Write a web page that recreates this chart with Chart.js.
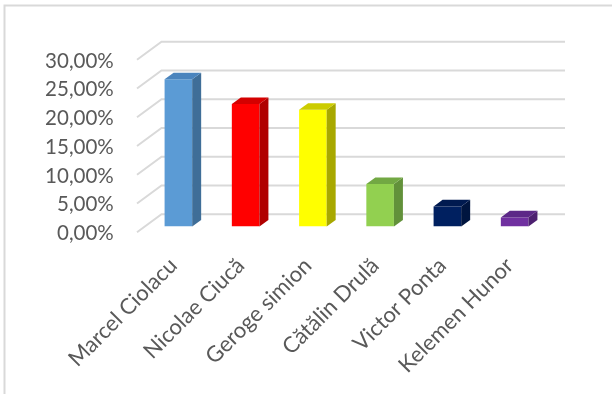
<!DOCTYPE html>
<html>
<head>
<meta charset="utf-8">
<script src="https://cdn.jsdelivr.net/npm/chart.js@4"></script>
<style>
  html, body { margin: 0; padding: 0; background: #fff; }
  #wrap { width: 612px; height: 394px; }
</style>
</head>
<body>
<div id="wrap"><canvas id="sondaj"></canvas></div>
<script>
const candidati = ['Marcel Ciolacu', 'Nicolae Ciucă', 'Geroge simion', 'Cătălin Drulă', 'Victor Ponta', 'Kelemen Hunor'];
const procente = [0.256, 0.213, 0.203, 0.074, 0.035, 0.016];
const culoriFata = ['#5b9bd5', '#ff0000', '#ffff00', '#92d050', '#002060', '#7030a0'];
const culoriLateral = ['#3f6e98', '#b00000', '#a8a800', '#62913a', '#00153f', '#4d2070'];
const culoriSus = ['#4a84bd', '#d40000', '#cccc00', '#72a843', '#001a50', '#5c2887'];
const valoriAxa = [0, 0.05, 0.10, 0.15, 0.20, 0.25, 0.30];

// 3d depth of the bars and of the floor / back wall
const adancBara = { dx: 9, dy: -6.6 };
const perete = { dx: 16.75, dy: -12.3 };
const fata = { dx: -7.75, dy: 5.7 };

function procent(v) {
    return (v * 100).toFixed(2).replace('.', ',') + '%';
}

// frame + grid lines on side wall and back wall
const grila3d = {
    id: 'grila3d',
    beforeDatasetsDraw(chart) {
        const ctx = chart.ctx;
        const y = chart.scales.y;
        const a = chart.chartArea;
        ctx.save();
        ctx.strokeStyle = '#d9d9d9';
        ctx.lineWidth = 2;
        ctx.beginPath();
        ctx.moveTo(4.5, 394);
        ctx.lineTo(4.5, 5.5);
        ctx.lineTo(612, 5.5);
        ctx.stroke();
        valoriAxa.forEach(v => {
            const py = y.getPixelForValue(v);
            ctx.beginPath();
            ctx.moveTo(a.left + fata.dx, py + fata.dy);
            ctx.lineTo(a.left + perete.dx, py + perete.dy);
            ctx.lineTo(a.right + perete.dx, py + perete.dy);
            ctx.stroke();
        });
        ctx.restore();
    },
    afterDatasetsDraw(chart) {
        const ctx = chart.ctx;
        const meta = chart.getDatasetMeta(0);
        ctx.save();
        meta.data.forEach((bar, i) => {
            const p = bar.getProps(['x', 'y', 'base', 'width'], true);
            const l = p.x - p.width / 2;
            const r = p.x + p.width / 2;
            const dx = adancBara.dx, dy = adancBara.dy;
            // side face
            ctx.fillStyle = culoriLateral[i];
            ctx.beginPath();
            ctx.moveTo(r, p.y);
            ctx.lineTo(r + dx, p.y + dy);
            ctx.lineTo(r + dx, p.base + dy);
            ctx.lineTo(r, p.base);
            ctx.closePath();
            ctx.fill();
            // top face
            ctx.fillStyle = culoriSus[i];
            ctx.beginPath();
            ctx.moveTo(l, p.y);
            ctx.lineTo(l + dx, p.y + dy);
            ctx.lineTo(r + dx, p.y + dy);
            ctx.lineTo(r, p.y);
            ctx.closePath();
            ctx.fill();
        });
        ctx.restore();
    }
};

new Chart(document.getElementById('sondaj'), {
    type: 'bar',
    data: {
        labels: candidati,
        datasets: [{
            data: procente,
            backgroundColor: culoriFata,
            borderWidth: 0,
            barPercentage: 0.41,
            categoryPercentage: 1
        }]
    },
    options: {
        responsive: true,
        maintainAspectRatio: false,
        animation: false,
        layout: { padding: { top: 54, right: 63.75, left: 0, bottom: 0 } },
        plugins: {
            legend: { display: false },
            tooltip: { enabled: false }
        },
        scales: {
            x: {
                grid: { display: false },
                border: { display: false },
                ticks: {
                    color: '#595959',
                    font: { family: 'Lato', size: 22 },
                    minRotation: 45,
                    maxRotation: 45,
                    padding: 18,
                    labelOffset: -5
                },
                afterFit(s) { s.height = 394 - 226.6; }
            },
            y: {
                min: 0,
                max: 0.30,
                grid: { display: false },
                border: { display: false },
                ticks: {
                    stepSize: 0.05,
                    color: '#595959',
                    font: { family: 'Lato', size: 20.5 },
                    padding: 23,
                    labelOffset: 7,
                    callback: v => procent(v)
                },
                afterFit(s) { s.width = 144.75; }
            }
        }
    },
    plugins: [grila3d]
});
</script>
</body>
</html>
